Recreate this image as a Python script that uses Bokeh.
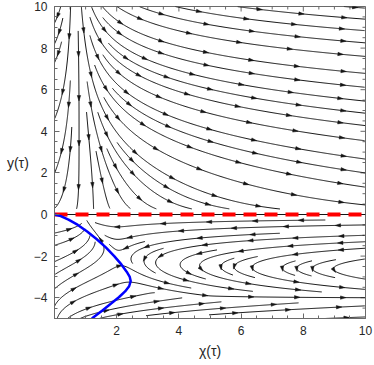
import numpy as np
from math import hypot
from bokeh.plotting import figure
from bokeh.models import Range1d, FixedTicker
from bokeh.embed import file_html
from bokeh.resources import INLINE

# ---------------- data ----------------
x_lim = [0.0, 10.0]
y_lim = [-5.0, 10.0]
x_major = [2, 4, 6, 8, 10]
y_major = [-4, -2, 0, 2, 4, 6, 8, 10]
x_minor = [i * 0.5 for i in range(0, 21)]
y_minor = [-5 + i * 0.5 for i in range(0, 31)]

# blue curve
blue_chi = [0.0, 0.2, 0.45, 0.75, 1.05, 1.35, 1.65, 1.92, 2.15, 2.32, 2.42, 2.45,
            2.4, 2.27, 2.07, 1.82, 1.55, 1.2]
blue_y = [0.0, -0.08, -0.25, -0.5, -0.82, -1.18, -1.58, -2.0, -2.4, -2.75, -3.0, -3.2,
          -3.45, -3.7, -3.98, -4.28, -4.6, -5.0]

# red dashed invariant line
red_chi = [0.0, 10.0]
red_y = [0.0, 0.0]

# ------------- estimated vector field behind the stream lines -------------
A_UP = 0.077
A_LOW = 0.07
EPS = 1.0
D_UP = 0.7
UP_NULL = (0.5, 2.75, 1.9)
LOW_NULL = (0.5, 2.75, 1.2)
G_NULL = (1.9, 4.05, 0.4)
S_LOW = 0.1


def field(c, y):
    if y >= 0:
        c0, ya, cc = UP_NULL
        dlt = c - c0 - cc / (y + ya)
        g = (y + ya) * dlt * abs(dlt) / (abs(dlt) + D_UP)
        s = 1.0
        F = A_UP * y * g
    else:
        c0, ya, cc = LOW_NULL
        g = (c - c0) * (y + ya) - cc
        x1, yb, c2 = G_NULL
        if y > -yb:
            d = c - (x1 + c2 / (y + yb))
            S = -np.tanh(d / 0.3)
        else:
            S = 1.0
        s = S_LOW * S
        F = A_LOW * y * g
    G = -s * y * abs(y) / (abs(y) + EPS)
    return F, G


# ------------- figure geometry -------------
W, H = 374, 365
BL, BR, BT, BB = 54, 9, 6, 47
FW, FH = float(W - BL - BR), float(H - BT - BB)
SX = FW / (x_lim[1] - x_lim[0])
SY = FH / (y_lim[1] - y_lim[0])

# ------------- evenly spaced stream lines (pixel space) -------------
DSEP = 11.0
DTEST = 5.5
STEP = 1.0
CS = DSEP
MINLEN = 9.0


def vel(u, v):
    c = x_lim[0] + u / SX
    y = y_lim[0] + v / SY
    F, G = field(c, y)
    du, dv = F * SX, G * SY
    n = hypot(du, dv)
    if n < 1e-12:
        return None
    return du / n, dv / n


grid = {}


def add_pt(gd, u, v, tag):
    gd.setdefault((int(u // CS), int(v // CS)), []).append((u, v, tag))


def near(gd, u, v, d, idx=None):
    i, j = int(u // CS), int(v // CS)
    d2 = d * d
    for a in (i - 1, i, i + 1):
        for b in (j - 1, j, j + 1):
            for (pu, pv, t) in gd.get((a, b), ()):
                if idx is not None and abs(t - idx) < 25:
                    continue
                if (pu - u) ** 2 + (pv - v) ** 2 < d2:
                    return True
    return False


def trace(u0, v0):
    local = {}
    add_pt(local, u0, v0, 0)
    halves = []
    for sgn in (1, -1):
        pts = []
        u, v = u0, v0
        yprev = y_lim[0] + v0 / SY
        k = 0
        while k < 3000:
            d1 = vel(u, v)
            if d1 is None:
                break
            um, vm = u + 0.5 * STEP * sgn * d1[0], v + 0.5 * STEP * sgn * d1[1]
            d2 = vel(um, vm)
            if d2 is None:
                break
            un, vn = u + STEP * sgn * d2[0], v + STEP * sgn * d2[1]
            if not (0 <= un <= FW and 0 <= vn <= FH):
                break
            ynew = y_lim[0] + vn / SY
            if ynew * yprev <= 0:
                break
            if near(grid, un, vn, DTEST):
                break
            k += 1
            if near(local, un, vn, DTEST, idx=sgn * k):
                break
            add_pt(local, un, vn, sgn * k)
            pts.append((un, vn))
            u, v = un, vn
            yprev = ynew
        halves.append(pts)
    fwd, bwd = halves
    return bwd[::-1] + [(u0, v0)] + fwd


def plen(line):
    return sum(hypot(line[i + 1][0] - line[i][0], line[i + 1][1] - line[i][1])
               for i in range(len(line) - 1))


v_zero = (0.0 - y_lim[0]) * SY
for uu in np.arange(0, FW + 0.5, 1.0):
    add_pt(grid, float(uu), v_zero, 0)

lines = []
queue = []


def try_seed(u, v):
    if not (1 <= u <= FW - 1 and 1 <= v <= FH - 1):
        return
    if abs(v - v_zero) < 2:
        return
    if near(grid, u, v, DSEP):
        return
    line = trace(u, v)
    if len(line) < 3 or plen(line) < MINLEN:
        return
    for (a, b) in line:
        add_pt(grid, a, b, 0)
    lines.append(line)
    queue.append(line)


def process_queue():
    while queue:
        line = queue.pop(0)
        for i in range(1, len(line) - 1, 3):
            tx = line[i + 1][0] - line[i - 1][0]
            ty = line[i + 1][1] - line[i - 1][1]
            n = hypot(tx, ty)
            if n == 0:
                continue
            nx, ny = -ty / n, tx / n
            for sg in (1, -1):
                try_seed(line[i][0] + sg * DSEP * nx, line[i][1] + sg * DSEP * ny)


try_seed(0.6 * FW, 0.75 * FH)
process_queue()
for vv in np.arange(DSEP / 2, FH, DSEP / 2):
    for uu in np.arange(DSEP / 2, FW, DSEP / 2):
        try_seed(float(uu), float(vv))
        process_queue()

xs, ys = [], []
ax, ay = [], []
for line in lines:
    xs.append([x_lim[0] + a / SX for (a, b) in line])
    ys.append([y_lim[0] + b / SY for (a, b) in line])
    cum = [0.0]
    for i in range(len(line) - 1):
        cum.append(cum[-1] + hypot(line[i + 1][0] - line[i][0], line[i + 1][1] - line[i][1]))
    L = cum[-1]
    if L < 14:
        continue
    nar = max(1, int(round(L / 48.0)))
    for k in range(nar):
        target = (k + 0.5) * L / nar
        i = int(np.searchsorted(cum, target))
        i = min(max(i, 1), len(line) - 2)
        tx = line[i + 1][0] - line[i - 1][0]
        ty = line[i + 1][1] - line[i - 1][1]
        n = hypot(tx, ty)
        if n == 0:
            continue
        tx, ty = tx / n, ty / n
        px_, py_ = line[i]
        tip = (px_ + 3.0 * tx, py_ + 3.0 * ty)
        b1 = (px_ - 2.4 * tx - 1.7 * ty, py_ - 2.4 * ty + 1.7 * tx)
        b2 = (px_ - 2.4 * tx + 1.7 * ty, py_ - 2.4 * ty - 1.7 * tx)
        ax.append([x_lim[0] + q[0] / SX for q in (tip, b1, b2)])
        ay.append([y_lim[0] + q[1] / SY for q in (tip, b1, b2)])

# ---------------- figure ----------------
FRAME_COL = "#6a6a6a"
TXT_COL = "#262626"
FONT = "Liberation Sans"

p = figure(width=W, height=H, x_range=Range1d(*x_lim), y_range=Range1d(*y_lim),
           output_backend="svg", toolbar_location=None,
           min_border_left=BL, min_border_right=BR, min_border_top=BT, min_border_bottom=BB)
p.grid.visible = False
p.outline_line_color = FRAME_COL
p.background_fill_color = "white"

for axis, ticks, minors in ((p.xaxis[0], x_major, x_minor), (p.yaxis[0], y_major, y_minor)):
    axis.ticker = FixedTicker(ticks=ticks, minor_ticks=minors)
    axis.major_tick_in = 5
    axis.major_tick_out = 0
    axis.minor_tick_in = 3
    axis.minor_tick_out = 0
    axis.axis_line_color = FRAME_COL
    axis.major_tick_line_color = FRAME_COL
    axis.minor_tick_line_color = FRAME_COL
    axis.major_label_text_font = FONT
    axis.major_label_text_font_size = "12px"
    axis.major_label_text_color = TXT_COL
    axis.major_label_standoff = 7
    axis.axis_label_text_font = FONT
    axis.axis_label_text_font_size = "14px"
    axis.axis_label_text_font_style = "normal"
    axis.axis_label_text_color = TXT_COL

p.xaxis.axis_label = "χ(τ)"
p.xaxis.axis_label_standoff = 5
p.yaxis.axis_label = "y(τ)"
p.yaxis.axis_label_orientation = "horizontal"
p.yaxis.axis_label_standoff = 2

# mirrored inward ticks on the top and right frame edges
tx0, tx1, ty0, ty1 = [], [], [], []
for t in x_minor:
    ln = 5 if t in x_major else 3
    tx0.append(t); tx1.append(t); ty0.append(y_lim[1]); ty1.append(y_lim[1] - ln / SY)
for t in y_minor:
    ln = 5 if t in y_major else 3
    tx0.append(x_lim[1]); tx1.append(x_lim[1] - ln / SX); ty0.append(t); ty1.append(t)
p.segment(tx0, ty0, tx1, ty1, line_color=FRAME_COL, line_width=1)

p.multi_line(xs, ys, line_color="#141414", line_width=1.0)
p.patches(ax, ay, fill_color="#141414", line_color="#141414", line_width=0.5)
p.line(red_chi, red_y, line_color="#141414", line_width=1.0)
p.line(red_chi, red_y, line_color="#ff0000", line_width=4, line_dash="13 8")
p.line(blue_chi, blue_y, line_color="#0000ff", line_width=2.5)

open("out.html", "w").write(file_html(p, INLINE))
